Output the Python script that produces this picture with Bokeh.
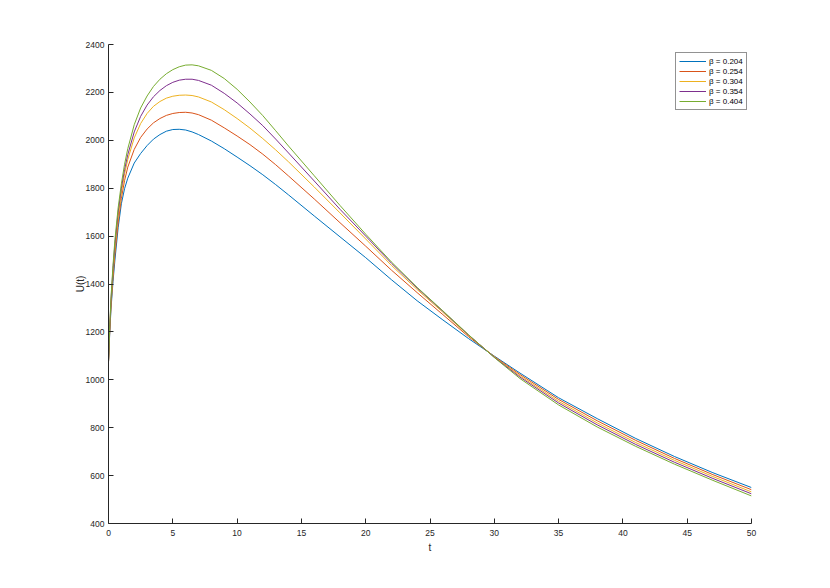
from bokeh.plotting import figure
from bokeh.models import Range1d, FixedTicker, Legend, LegendItem
from bokeh.embed import file_html
from bokeh.resources import INLINE

t = [0, 0.1, 0.2, 0.35, 0.5, 0.75, 1, 1.25, 1.5, 2, 2.5, 3, 3.5, 4, 4.5, 5, 5.5, 6, 6.5, 7,
     8, 9, 10, 11, 12, 13, 14, 16, 18, 20, 22, 24, 26, 28, 30, 32, 35, 38, 41, 44, 47, 50]

u_204 = [1075, 1200, 1300, 1410, 1500, 1635, 1735, 1798, 1842, 1905, 1945, 1978, 2005, 2024, 2038, 2045, 2046, 2043, 2035, 2024,
         1997, 1965, 1930, 1894, 1856, 1815, 1772, 1684, 1597, 1510, 1418, 1330, 1250, 1172, 1099, 1028, 925, 838, 755, 680, 612, 550]
u_254 = [1075, 1208, 1313, 1428, 1525, 1655, 1758, 1832, 1888, 1962, 2012, 2047, 2073, 2091, 2104, 2112, 2116, 2117, 2114, 2107,
         2084, 2052, 2018, 1982, 1942, 1898, 1851, 1755, 1656, 1558, 1458, 1364, 1272, 1180, 1097, 1022, 918, 829, 747, 672, 604, 541]
u_304 = [1075, 1215, 1325, 1450, 1550, 1680, 1780, 1860, 1920, 2010, 2070, 2112, 2142, 2162, 2176, 2184, 2188, 2189, 2187, 2181,
         2160, 2128, 2091, 2051, 2007, 1960, 1910, 1805, 1697, 1588, 1478, 1377, 1282, 1185, 1096, 1016, 910, 820, 738, 664, 596, 532]
u_354 = [1075, 1222, 1337, 1465, 1568, 1700, 1800, 1878, 1940, 2035, 2100, 2147, 2182, 2208, 2228, 2242, 2251, 2255, 2255, 2250,
         2230, 2196, 2156, 2110, 2061, 2005, 1947, 1830, 1712, 1600, 1487, 1383, 1286, 1187, 1094, 1011, 903, 812, 730, 656, 588, 524]
u_404 = [1075, 1228, 1348, 1478, 1585, 1718, 1818, 1900, 1965, 2065, 2135, 2185, 2225, 2255, 2278, 2295, 2307, 2314, 2315, 2311,
         2292, 2258, 2213, 2160, 2103, 2040, 1976, 1852, 1728, 1608, 1492, 1386, 1288, 1188, 1093, 1005, 895, 803, 722, 648, 580, 515]

series = [u_204, u_254, u_304, u_354, u_404]
labels = ["β = 0.204", "β = 0.254", "β = 0.304", "β = 0.354", "β = 0.404"]
colors = ["#0072BD", "#D95319", "#EDB120", "#7E2F8E", "#77AC30"]

x_ticks = [0, 5, 10, 15, 20, 25, 30, 35, 40, 45, 50]
y_ticks = [400, 600, 800, 1000, 1200, 1400, 1600, 1800, 2000, 2200, 2400]

FONT = "Liberation Sans"
AX = "#262626"

p = figure(width=822, height=580, output_backend="svg", toolbar_location=None,
           x_range=Range1d(0, 50), y_range=Range1d(400, 2400),
           min_border_left=108, min_border_right=71, min_border_top=44, min_border_bottom=57)
p.outline_line_color = None
p.xgrid.visible = False
p.ygrid.visible = False
p.background_fill_color = "white"
p.border_fill_color = "white"

for ax in (p.xaxis[0], p.yaxis[0]):
    ax.axis_line_color = AX
    ax.axis_line_width = 1
    ax.major_tick_in = 5
    ax.major_tick_out = 0
    ax.major_tick_line_color = AX
    ax.minor_tick_line_color = None
    ax.major_label_text_font = FONT
    ax.major_label_text_font_size = "8.5px"
    ax.major_label_text_color = AX
    ax.axis_label_text_font = FONT
    ax.axis_label_text_font_size = "10px"
    ax.axis_label_text_font_style = "normal"
    ax.axis_label_text_color = AX

p.xaxis.ticker = FixedTicker(ticks=x_ticks)
p.yaxis.ticker = FixedTicker(ticks=y_ticks)
p.xaxis.major_label_standoff = 6
p.yaxis.major_label_standoff = 4
p.xaxis.axis_label = "t"
p.yaxis.axis_label = "U(t)"
p.xaxis.axis_label_standoff = 3
p.yaxis.axis_label_standoff = -3

items = []
for ys, lab, c in zip(series, labels, colors):
    r = p.line(t, ys, line_color=c, line_width=1)
    items.append(LegendItem(label=lab, renderers=[r]))

legend = Legend(items=items, location=(567, 413))
legend.label_text_font = FONT
legend.label_text_font_size = "8px"
legend.label_text_color = "#000000"
legend.label_height = 10
legend.glyph_height = 10
legend.glyph_width = 27
legend.label_standoff = 3
legend.spacing = 0
legend.padding = 3
legend.margin = 0
legend.border_line_color = "#262626"
legend.border_line_width = 1
legend.background_fill_color = "white"
legend.background_fill_alpha = 1
p.add_layout(legend, "center")

open("out.html", "w").write(file_html(p, INLINE))
